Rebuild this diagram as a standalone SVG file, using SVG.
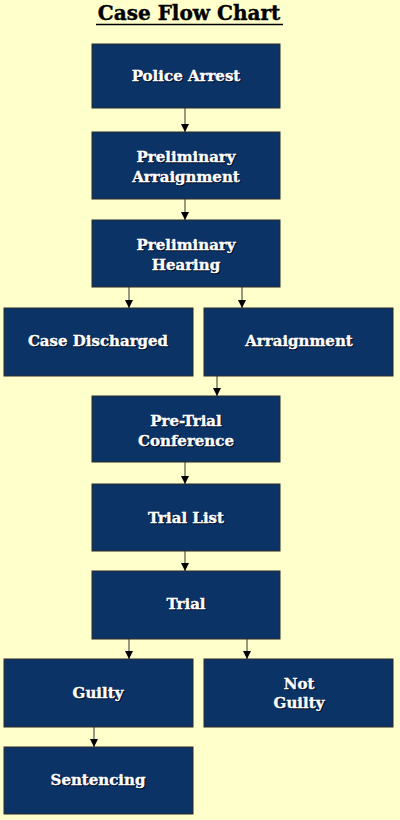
<svg xmlns="http://www.w3.org/2000/svg" width="400" height="820" viewBox="0 0 400 820">
<defs>
<style>
.box{fill:#0B3366;stroke:#2a2a2a;stroke-width:1}
.t{font-family:"DejaVu Serif","Liberation Serif",serif;font-weight:bold;font-size:15px;text-anchor:middle}
.fg{fill:#ffffff;stroke:#ffffff;stroke-width:0.35}
.sh{fill:#000a1e;stroke:#000a1e;stroke-width:0.35}
.ln{stroke:#333333;stroke-width:1;fill:none;marker-end:url(#ah)}
.title{font-family:"DejaVu Serif","Liberation Serif",serif;font-weight:bold;font-size:20px;text-anchor:middle;fill:#000000;stroke:#000000;stroke-width:0.4}
</style>
<marker id="ah" viewBox="0 0 8 8" refX="8" refY="4" markerWidth="8" markerHeight="8" markerUnits="userSpaceOnUse" orient="auto">
<path d="M0,0 L8,4 L0,8 Z" fill="#000000"/>
</marker>
</defs>
<rect width="400" height="820" fill="#FFFFCC"/>
<g id="title">
<text class="title" x="189" y="20">Case Flow Chart</text>
<line x1="96" y1="24.5" x2="283" y2="24.5" stroke="#000" stroke-width="1.5"/>
</g>
<g id="connectors">
<line class="ln" x1="185" y1="108" x2="185" y2="132"/>
<line class="ln" x1="185" y1="199" x2="185" y2="220"/>
<line class="ln" x1="129" y1="287" x2="129" y2="308"/>
<line class="ln" x1="242" y1="287" x2="242" y2="308"/>
<line class="ln" x1="217" y1="376" x2="217" y2="396"/>
<line class="ln" x1="185" y1="462" x2="185" y2="484"/>
<line class="ln" x1="185" y1="551" x2="185" y2="571"/>
<line class="ln" x1="129" y1="639" x2="129" y2="659"/>
<line class="ln" x1="247" y1="639" x2="247" y2="659"/>
<line class="ln" x1="94" y1="727" x2="94" y2="747"/>
</g>
<g id="police-arrest">
<rect class="box" x="92" y="44" width="188" height="64"/>
<text class="t sh" x="187" y="82">Police Arrest</text>
<text class="t fg" x="186" y="81">Police Arrest</text>
</g>
<g id="preliminary-arraignment">
<rect class="box" x="92" y="132" width="188" height="67"/>
<text class="t sh" x="187" y="163">Preliminary</text>
<text class="t fg" x="186" y="162">Preliminary</text>
<text class="t sh" x="187" y="183">Arraignment</text>
<text class="t fg" x="186" y="182">Arraignment</text>
</g>
<g id="preliminary-hearing">
<rect class="box" x="92" y="220" width="188" height="67"/>
<text class="t sh" x="187" y="251">Preliminary</text>
<text class="t fg" x="186" y="250">Preliminary</text>
<text class="t sh" x="187" y="271">Hearing</text>
<text class="t fg" x="186" y="270">Hearing</text>
</g>
<g id="case-discharged">
<rect class="box" x="4" y="308" width="189" height="68"/>
<text class="t sh" x="99" y="347">Case Discharged</text>
<text class="t fg" x="98" y="346">Case Discharged</text>
</g>
<g id="arraignment">
<rect class="box" x="204" y="308" width="189" height="68"/>
<text class="t sh" x="300" y="347">Arraignment</text>
<text class="t fg" x="299" y="346">Arraignment</text>
</g>
<g id="pre-trial-conference">
<rect class="box" x="92" y="396" width="188" height="66"/>
<text class="t sh" x="187" y="427">Pre-Trial</text>
<text class="t fg" x="186" y="426">Pre-Trial</text>
<text class="t sh" x="187" y="447">Conference</text>
<text class="t fg" x="186" y="446">Conference</text>
</g>
<g id="trial-list">
<rect class="box" x="92" y="484" width="188" height="67"/>
<text class="t sh" x="187" y="524">Trial List</text>
<text class="t fg" x="186" y="523">Trial List</text>
</g>
<g id="trial">
<rect class="box" x="92" y="571" width="188" height="68"/>
<text class="t sh" x="187" y="610">Trial</text>
<text class="t fg" x="186" y="609">Trial</text>
</g>
<g id="guilty">
<rect class="box" x="4" y="659" width="189" height="68"/>
<text class="t sh" x="99" y="699">Guilty</text>
<text class="t fg" x="98" y="698">Guilty</text>
</g>
<g id="not-guilty">
<rect class="box" x="204" y="659" width="189" height="68"/>
<text class="t sh" x="300" y="690">Not</text>
<text class="t fg" x="299" y="689">Not</text>
<text class="t sh" x="300" y="709">Guilty</text>
<text class="t fg" x="299" y="708">Guilty</text>
</g>
<g id="sentencing">
<rect class="box" x="4" y="747" width="189" height="67"/>
<text class="t sh" x="99" y="786">Sentencing</text>
<text class="t fg" x="98" y="785">Sentencing</text>
</g>
</svg>
